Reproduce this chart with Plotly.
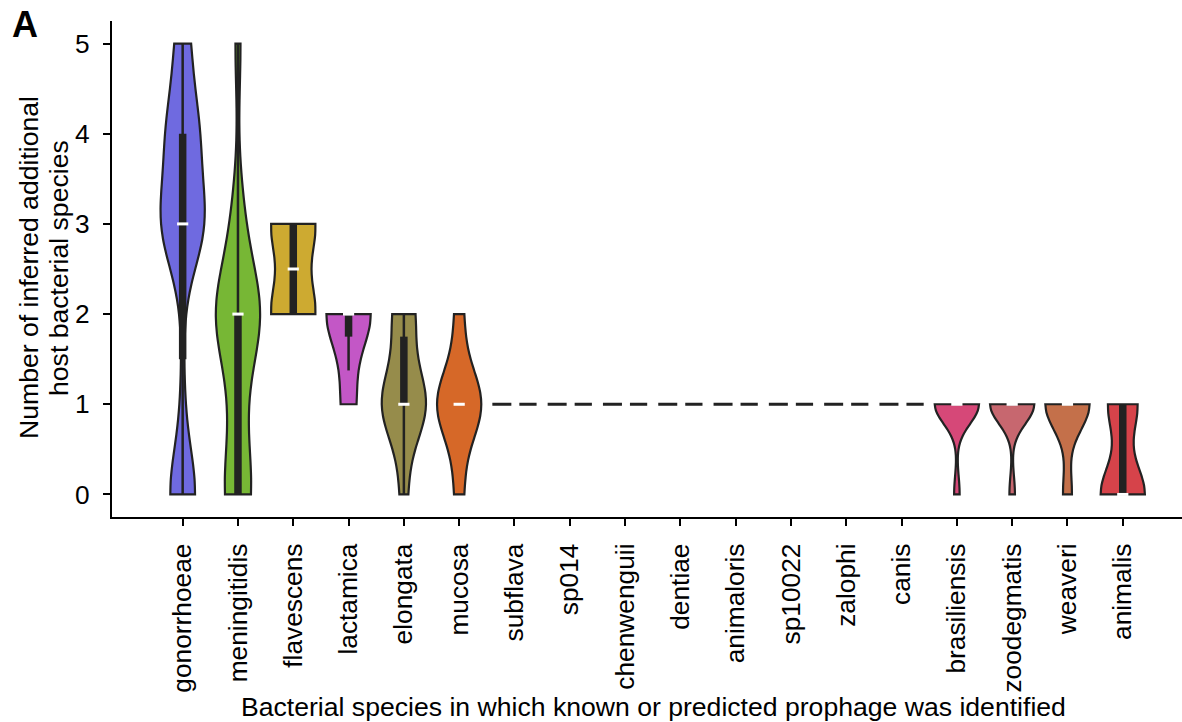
import numpy as np
import plotly.graph_objects as go

# ---------------- data ----------------
species = ["gonorrhoeae", "meningitidis", "flavescens", "lactamica", "elongata", "mucosa",
           "subflava", "sp014", "chenwenguii", "dentiae", "animaloris", "sp10022", "zalophi",
           "canis", "brasiliensis", "zoodegmatis", "weaveri", "animalis"]

# possible values of "number of inferred additional host bacterial species"
host_values = [0, 1, 2, 3, 4, 5]

# number of prophages per value (0..5) for each species
gonorrhoeae = [93, 12, 6, 150, 108, 50]
meningitidis = [19, 8, 32, 8, 0, 4]
flavescens = [0, 0, 3, 3, 0, 0]
lactamica = [0, 1, 3, 0, 0, 0]
elongata = [1, 6, 3, 0, 0, 0]
mucosa = [1, 5, 1, 0, 0, 0]
subflava = [0, 1, 0, 0, 0, 0]
sp014 = [0, 1, 0, 0, 0, 0]
chenwenguii = [0, 1, 0, 0, 0, 0]
dentiae = [0, 1, 0, 0, 0, 0]
animaloris = [0, 1, 0, 0, 0, 0]
sp10022 = [0, 1, 0, 0, 0, 0]
zalophi = [0, 1, 0, 0, 0, 0]
canis = [0, 1, 0, 0, 0, 0]
brasiliensis = [1, 8, 0, 0, 0, 0]
zoodegmatis = [1, 8, 0, 0, 0, 0]
weaveri = [1, 5, 0, 0, 0, 0]
animalis = [6, 4, 0, 0, 0, 0]

counts = [gonorrhoeae, meningitidis, flavescens, lactamica, elongata, mucosa,
          subflava, sp014, chenwenguii, dentiae, animaloris, sp10022, zalophi, canis,
          brasiliensis, zoodegmatis, weaveri, animalis]

colors = ["#6F6AE0", "#77B735", "#CDAA31", "#C357C6", "#968C4B", "#D66828",
          "#888888", "#888888", "#888888", "#888888", "#888888", "#888888", "#888888",
          "#888888", "#D64878", "#C7676F", "#C4704A", "#D6434A"]

y_ticks = [0, 1, 2, 3, 4, 5]

# ---------------- style / layout constants ----------------
W, H = 1182, 722
ML, MR, MT, MB = 112, 0, 21, 205
FONT = "Liberation Sans, Arial, sans-serif"
INK = "#222222"
VIOLIN_W = 0.8
X_RANGE = [-1.278, -1.278 + (W - ML - MR) / 55.3]
Y_RANGE = [-0.25, 5.25]
TICK_SIZE = 26.3
TITLE_SIZE = 26.6

fig = go.Figure()

overlay = []
for i, (name, cnt, col) in enumerate(zip(species, counts, colors)):
    vals = np.repeat(np.array(host_values, dtype=float), cnt)
    if np.ptp(vals) == 0:
        # degenerate distribution: a single value -> dashed line
        fig.add_trace(go.Scatter(
            x=[i - VIOLIN_W / 2, i + VIOLIN_W / 2], y=[vals[0], vals[0]],
            mode="lines", line=dict(color=INK, width=3, dash="19px,8px"),
            showlegend=False, hoverinfo="skip"))
        continue
    bw = vals.std(ddof=1) * len(vals) ** (-0.2)  # Scott's rule
    fig.add_trace(go.Violin(
        x=np.full(len(vals), i), y=vals, name=name, orientation="v",
        width=VIOLIN_W, scalemode="width", spanmode="hard", bandwidth=bw,
        points=False, fillcolor=col, line=dict(color=INK, width=2.2),
        box_visible=False, meanline_visible=False,
        showlegend=False, hoverinfo="skip"))
    q1, med, q3 = np.percentile(vals, [25, 50, 75])
    iqr = q3 - q1
    lo = max(vals.min(), q1 - 1.5 * iqr)
    hi = min(vals.max(), q3 + 1.5 * iqr)
    overlay.append((i, lo, q1, med, q3, hi))

# inner boxes: whiskers, IQR bars, medians
for i, lo, q1, med, q3, hi in overlay:
    if hi > lo:
        fig.add_trace(go.Scatter(x=[i, i], y=[lo, hi], mode="lines",
                                 line=dict(color=INK, width=2.5),
                                 showlegend=False, hoverinfo="skip"))
    if q3 > q1:
        fig.add_trace(go.Scatter(x=[i, i], y=[q1, q3], mode="lines",
                                 line=dict(color=INK, width=7.5),
                                 showlegend=False, hoverinfo="skip"))
fig.add_trace(go.Scatter(
    x=[o[0] for o in overlay], y=[o[3] for o in overlay], mode="markers",
    marker=dict(symbol="line-ew", size=8, line=dict(color="white", width=3)),
    showlegend=False, hoverinfo="skip"))

pw, ph = W - ML - MR, H - MT - MB


def px_x(p):
    return (p - ML) / pw


def px_y(p):
    return (H - MB - p) / ph


annotations = [
    dict(text="<b>A</b>", x=px_x(25), y=px_y(25), xref="paper", yref="paper",
         showarrow=False, xanchor="center", yanchor="middle",
         font=dict(family=FONT, size=36, color="black")),
    dict(text="Bacterial species in which known or predicted prophage was identified",
         x=px_x(653), y=px_y(707), xref="paper", yref="paper", showarrow=False,
         xanchor="center", yanchor="middle",
         font=dict(family=FONT, size=TITLE_SIZE, color="black")),
    dict(text="Number of inferred additional", x=px_x(29), y=px_y(268),
         xref="paper", yref="paper", showarrow=False, textangle=-90,
         xanchor="center", yanchor="middle",
         font=dict(family=FONT, size=TITLE_SIZE, color="black")),
    dict(text="host bacterial species", x=px_x(59), y=px_y(268),
         xref="paper", yref="paper", showarrow=False, textangle=-90,
         xanchor="center", yanchor="middle",
         font=dict(family=FONT, size=TITLE_SIZE, color="black")),
]

fig.update_layout(
    width=W, height=H,
    margin=dict(l=ML, r=MR, t=MT, b=MB, pad=0),
    paper_bgcolor="white", plot_bgcolor="white",
    violinmode="overlay",
    showlegend=False,
    annotations=annotations,
    xaxis=dict(range=X_RANGE, tickmode="array", tickvals=list(range(len(species))),
               ticktext=species, tickangle=-90, ticks="outside", ticklen=7, tickwidth=2,
               tickcolor="black", showline=True, linecolor="black", linewidth=2,
               showgrid=False, zeroline=False, ticklabelstandoff=7,
               tickfont=dict(family=FONT, size=TICK_SIZE, color="black")),
    yaxis=dict(range=Y_RANGE, tickmode="array", tickvals=y_ticks,
               ticktext=[str(v) for v in y_ticks], ticks="outside", ticklen=7,
               tickwidth=2, tickcolor="black", showline=True, linecolor="black",
               linewidth=2, showgrid=False, zeroline=False, ticklabelstandoff=8,
               tickfont=dict(family=FONT, size=TICK_SIZE, color="black")),
)

fig.write_html("out.html")
